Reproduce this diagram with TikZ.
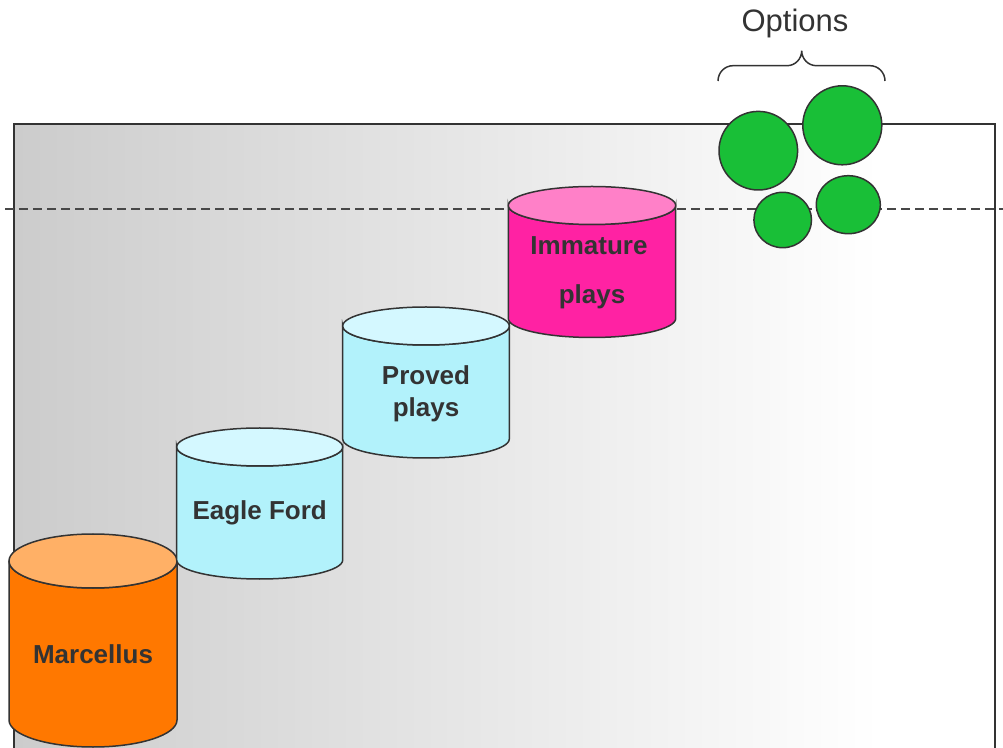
\documentclass[tikz,border=0pt]{standalone}
\usepackage{fontspec}
\newfontfamily\arial{Liberation Sans}
\definecolor{ink}{HTML}{333333}
\definecolor{orgtop}{HTML}{FFB066}
\definecolor{orgbody}{HTML}{FF7800}
\definecolor{cyantop}{HTML}{D4F8FF}
\definecolor{cyanbody}{HTML}{B2F2FB}
\definecolor{pinktop}{HTML}{FF80C8}
\definecolor{pinkbody}{HTML}{FF22A3}
\definecolor{optgreen}{HTML}{19BF37}
\newcommand{\drawcyl}[7]{%
  \filldraw[cylborder,fill=#7] ({#1-#4},#2) -- ({#1-#4},#3)
    arc[start angle=180,end angle=360,x radius=#4,y radius=#5]
    -- ({#1+#4},#2)
    arc[start angle=0,end angle=-180,x radius=#4,y radius=#5] -- cycle;
  \filldraw[cylborder,fill=#6] (#1,#2) ellipse[x radius=#4,y radius=#5];
}
\begin{document}
\begin{tikzpicture}[x=1pt,y=1pt,
  cylborder/.style={draw=ink,line width=1.5pt},
  lbl/.style={font=\arial\bfseries\fontsize{26}{30}\selectfont,text=ink,inner sep=0pt},
  opt/.style={draw=ink,line width=1.5pt,fill=optgreen}]
\useasboundingbox (0,0) rectangle (1003,747);
% background panel
\shade[left color=black!20,right color=white] (14,-5) rectangle (880,623);
\fill[white] (879.5,-5) rectangle (995,623);
\draw[ink,line width=2pt] (14,-5) -- (14,623) -- (995,623) -- (995,-5);
% dashed level line
\coordinate (dl) at (5,538);
\coordinate (dr) at (1003,538);
\draw[ink!90,line width=2pt,dash pattern=on 9pt off 5pt] (dl) -- (dr);
% cylinders
\drawcyl{93}{186}{27}{84}{27}{orgtop}{orgbody}
\drawcyl{259.7}{300}{187}{83}{19}{cyantop}{cyanbody}
\drawcyl{426}{421}{308}{83.3}{19}{cyantop}{cyanbody}
\drawcyl{592}{541.5}{428.5}{83.7}{19}{pinktop}{pinkbody}
\node[lbl] (marcellus) at (93,93) {Marcellus};
\node[lbl] (eagle) at (259.7,234) {Eagle Ford};
\node[lbl] (proved1) at (426,372) {Proved};
\node[lbl] (proved2) at (426,337) {plays};
\node[lbl] (immature1) at (589,501) {Immature};
\node[lbl] (immature2) at (592,450) {plays};
% options
\filldraw[opt] (758.3,596.3) circle[radius=39.3];
\filldraw[opt] (842.3,621.7) circle[radius=39.5];
\filldraw[opt] (782.7,527) ellipse[x radius=28.8,y radius=27.7];
\filldraw[opt] (848.3,542.3) ellipse[x radius=32,y radius=29];
\coordinate (bl) at (718,666);
\coordinate (bt) at (801.7,696.3);
\coordinate (br) at (885,666);
\draw[ink,line width=1.5pt] (bl) to[out=90,in=180] (733,681.3) -- (787,681.3) to[out=0,in=-90] (bt)
  to[out=-90,in=180] (816.5,681.3) -- (870,681.3) to[out=0,in=90] (br);
\node[font=\arial\fontsize{31}{36}\selectfont,text=ink] (options) at (795,724) {Options};
\end{tikzpicture}
\end{document}
